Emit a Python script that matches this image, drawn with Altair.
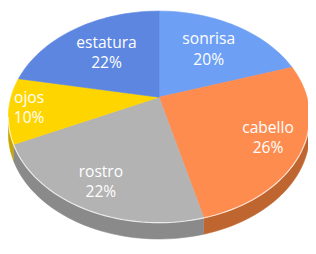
import math
import altair as alt
import pandas as pd

# ---- data ----
categories = ["sonrisa", "cabello", "rostro", "ojos", "estatura"]
values = [20, 26, 22, 10, 22]
pct_labels = ["20%", "26%", "22%", "10%", "22%"]
top_colors = ["#6d9ff4", "#ff8c4f", "#b3b3b3", "#ffd500", "#5c86e0"]
side_colors = ["#4f7bc4", "#bf6530", "#8a8a8a", "#c9a400", "#4567b8"]

# ---- perspective layout of the 3-D pie (page pixel units) ----
AX, AY = 163, 98          # projected centre of the pie
F, D = 582.0, 3.83        # focal length / camera distance (pie radius = 1)
TILT_C, TILT_S = 0.712, 0.702
DEPTH = 17
STEP = 2.0
FONT = 16
CHAR_W = 0.55 * 15
BOX_H = 38
PAD = 3

total = sum(values)


def proj(a, r=1.0):
    t = math.radians(a)
    X, Yf = r * math.sin(t), r * math.cos(t)
    z = D + Yf * TILT_C
    return AX + F * X / z, AY - F * Yf * TILT_S / z


vis0 = math.degrees(math.acos(-TILT_C / D))
vis1 = 360.0 - vis0

top_rows, side_rows, rim_rows, label_rows = [], [], [], []
start = 0.0
for cat, v, pct in zip(categories, values, pct_labels):
    sweep = 360.0 * v / total
    end = start + sweep
    n = max(2, int(math.ceil(sweep / STEP)))
    o = 0
    top_rows.append(dict(slice=cat, o=o, x=AX, y=AY))
    o += 1
    for k in range(n + 1):
        x, y = proj(start + sweep * k / n)
        top_rows.append(dict(slice=cat, o=o, x=x, y=y))
        o += 1
    top_rows.append(dict(slice=cat, o=o, x=AX, y=AY))

    s0, s1 = max(start, vis0), min(end, vis1)
    if s1 > s0:
        m = max(2, int(math.ceil((s1 - s0) / STEP)))
        angs = [s0 + (s1 - s0) * k / m for k in range(m + 1)]
        o = 0
        for a in angs:
            x, y = proj(a)
            side_rows.append(dict(slice=cat, o=o, x=x, y=y))
            rim_rows.append(dict(slice=cat, o=o, x=x, y=y))
            o += 1
        for a in reversed(angs):
            x, y = proj(a)
            side_rows.append(dict(slice=cat, o=o, x=x, y=y + DEPTH))
            o += 1

    # label box placed inside the slice, against its outer edge
    ex, ey = proj(start + sweep / 2)
    dx, dy = AX - ex, AY - ey
    L = math.hypot(dx, dy)
    ux, uy = dx / L, dy / L
    w = max(len(cat), len(pct)) * CHAR_W
    dist = PAD + abs(ux) * w / 2 + abs(uy) * BOX_H / 2
    label_rows.append(dict(slice=cat, x=ex + ux * dist, y=ey + uy * dist, name=cat, pct=pct))
    start = end

top_df = pd.DataFrame(top_rows)
side_df = pd.DataFrame(side_rows)
rim_df = pd.DataFrame(rim_rows)
lab_df = pd.DataFrame(label_rows)

xs = alt.Scale(domain=[8, 316], range=[0, 308], nice=False, zero=False)
ys = alt.Scale(domain=[8, 246], range=[0, 234], nice=False, zero=False)
X = alt.X("x:Q", scale=xs, axis=None)
Y = alt.Y("y:Q", scale=ys, axis=None)

side = alt.Chart(side_df).mark_line(strokeWidth=0.6).encode(
    x=X, y=Y, order="o:Q", detail="slice:N",
    fill=alt.Fill("slice:N", scale=alt.Scale(domain=categories, range=side_colors), legend=None),
    stroke=alt.Stroke("slice:N", scale=alt.Scale(domain=categories, range=side_colors), legend=None),
)

top = alt.Chart(top_df).mark_line(strokeWidth=0.6).encode(
    x=X, y=Y, order="o:Q", detail="slice:N",
    fill=alt.Fill("slice:N", scale=alt.Scale(domain=categories, range=top_colors), legend=None),
    stroke=alt.Stroke("slice:N", scale=alt.Scale(domain=categories, range=top_colors), legend=None),
)

rim = alt.Chart(rim_df).mark_line(color="white", strokeWidth=1.2, opacity=0.75).encode(
    x=X, y=Y, order="o:Q", detail="slice:N"
)

name_txt = alt.Chart(lab_df).mark_text(
    color="white", font="Open Sans", fontSize=FONT, dy=-11
).encode(x=X, y=Y, text="name:N")
pct_txt = alt.Chart(lab_df).mark_text(
    color="white", font="Open Sans", fontSize=FONT, dy=10
).encode(x=X, y=Y, text="pct:N")

chart = alt.layer(side, top, rim, name_txt, pct_txt).resolve_scale(
    fill="independent", stroke="independent"
).properties(
    width=308, height=234, padding=0,
    autosize=alt.AutoSizeParams(type="none"),
    background="white",
).configure_view(stroke=None)

chart.save("out.html", embed_options={"renderer": "svg", "actions": False})
